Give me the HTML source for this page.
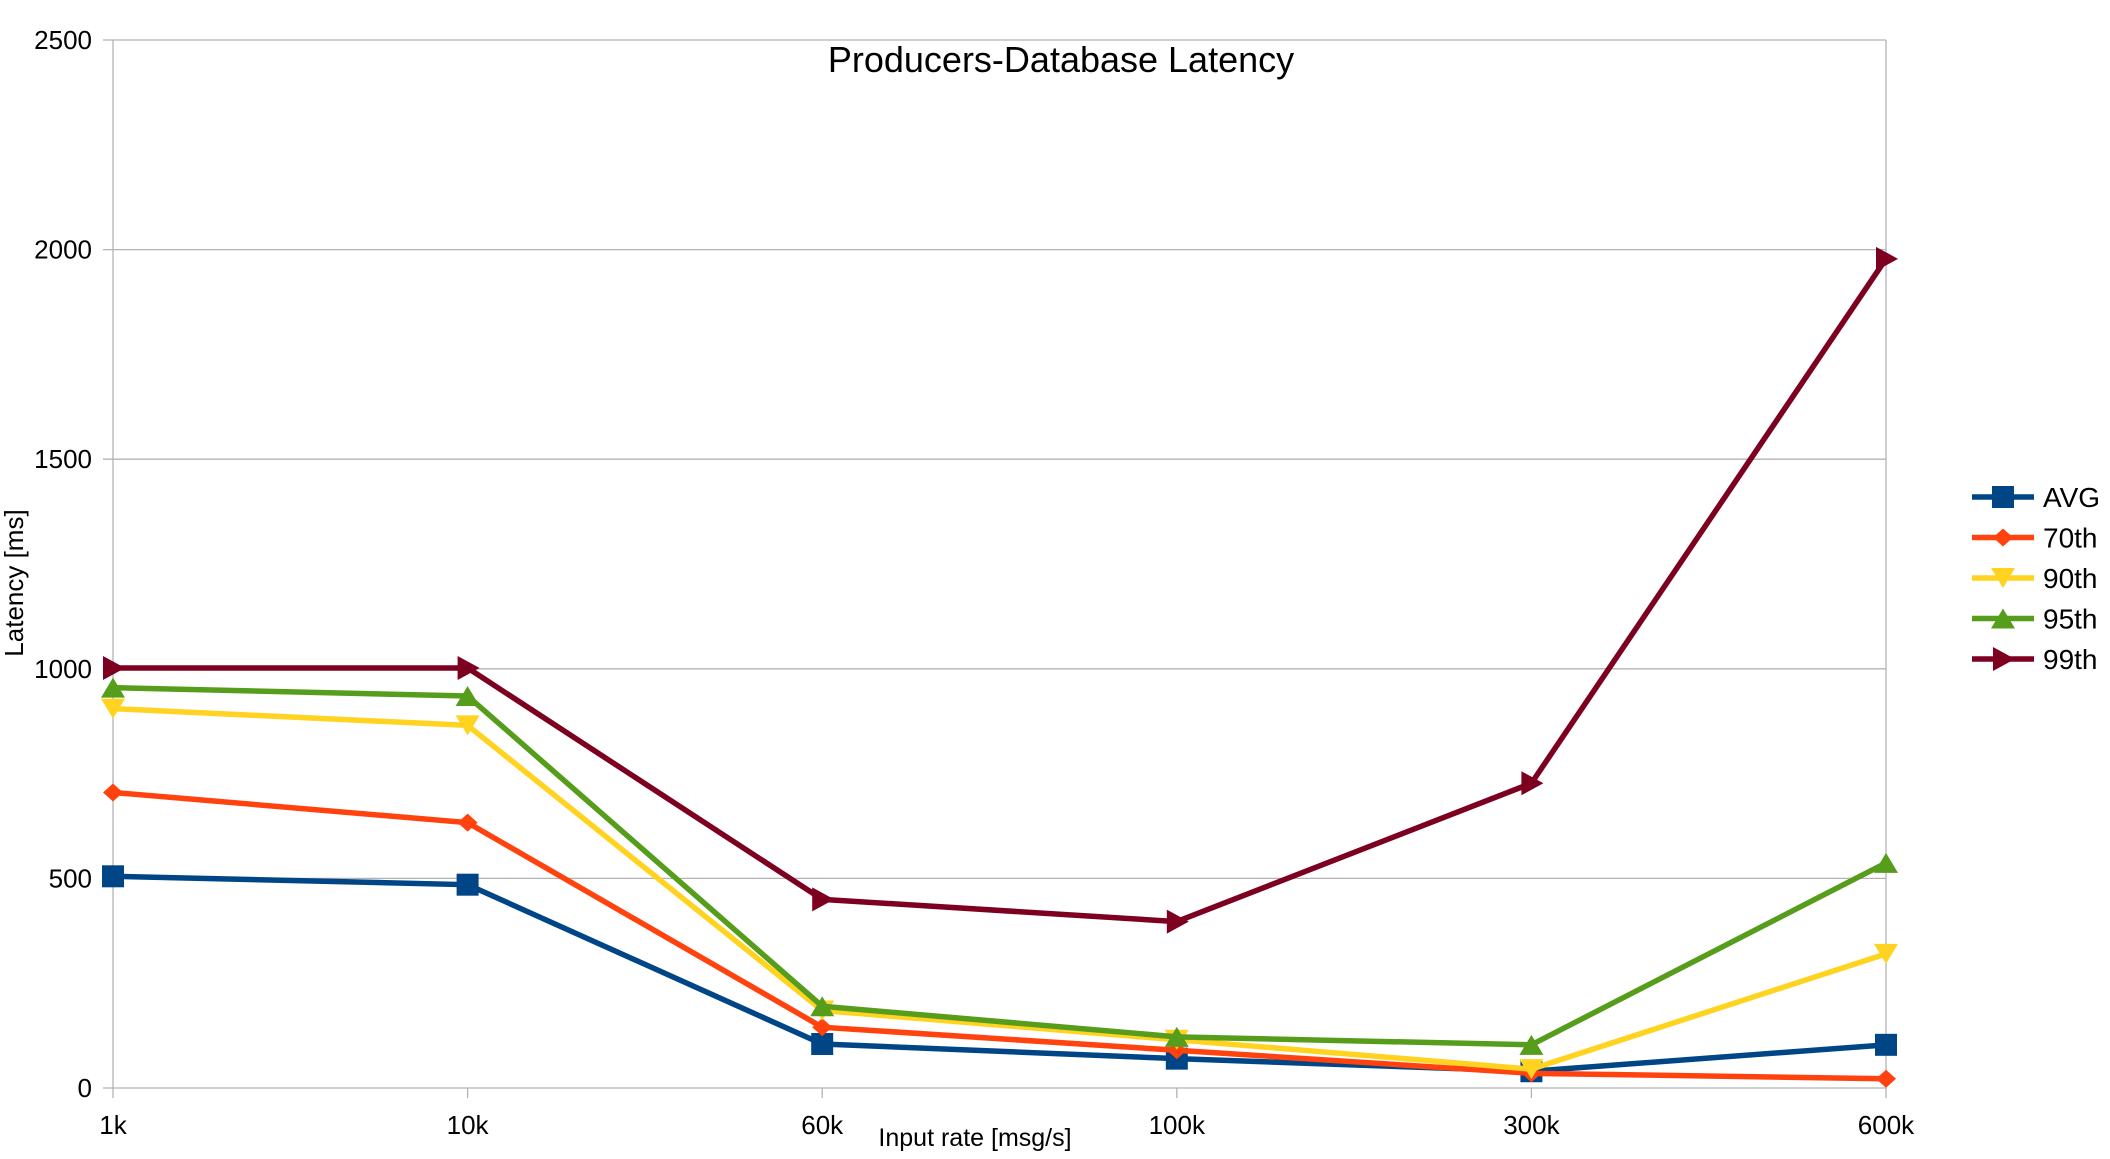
<!DOCTYPE html>
<html><head><meta charset="utf-8"><style>
body{margin:0;background:#fff;}
svg text{font-family:"Liberation Sans",sans-serif;fill:#000;}
</style></head><body>
<svg id="chart" width="2110" height="1154" xmlns="http://www.w3.org/2000/svg">
<text x="1061" y="72" font-size="36" text-anchor="middle">Producers-Database Latency</text>
<text x="975" y="1146" font-size="25" text-anchor="middle">Input rate [msg/s]</text>
<text transform="translate(23,583) rotate(-90)" font-size="26" text-anchor="middle">Latency [ms]</text>
<g id="grid"></g><g id="series"></g><g id="legend"></g>
</svg>
<script>
const categories=["1k","10k","60k","100k","300k","600k"];
const yTicks=[0,500,1000,1500,2000,2500];
const seriesNames=["AVG","70th","90th","95th","99th"];
const avgValues=[505,485,105,70,40,103];
const p70Values=[705,633,145,90,35,22];
const p90Values=[905,865,185,115,45,320];
const p95Values=[955,935,195,122,103,537];
const p99Values=[1002,1002,450,397,727,1978];
const colors=["#004586","#ff420e","#ffd320","#579d1c","#7e0021"];
const markers=["square","diamond","down","up","right"];
const allValues=[avgValues,p70Values,p90Values,p95Values,p99Values];
const NS="http://www.w3.org/2000/svg";
const L=113,R=1886,T=40,B=1088,YMAX=2500;
const x=i=>L+i*(R-L)/(categories.length-1);
const y=v=>B-v/YMAX*(B-T);
function mk(tag,attrs,parent){const e=document.createElementNS(NS,tag);for(const k in attrs)e.setAttribute(k,attrs[k]);parent.appendChild(e);return e;}
const grid=document.getElementById('grid');
yTicks.forEach(t=>{
 const g=mk('line',{x1:L-10,x2:R,y1:y(t),y2:y(t),stroke:'#b3b3b3','stroke-width':1.3},grid);
 
 
 const tx=mk('text',{x:92,y:y(t)+9,'font-size':26,'text-anchor':'end'},grid);
 tx.textContent=t;
 
 
});
categories.forEach((c,i)=>{
 const g=mk('line',{x1:x(i),x2:x(i),y1:(i==0||i==categories.length-1)?T:B,y2:B+10,stroke:'#b3b3b3','stroke-width':1.3},grid);
 
 
 const tx=mk('text',{x:x(i),y:1134,'font-size':26,'text-anchor':'middle'},grid);
 tx.textContent=c;
 
 
});
function marker(type,cx,cy,col,parent){
 const s=11;let p;
 if(type=='square')p=mk('rect',{x:cx-s,y:cy-s,width:2*s,height:2*s,fill:col},parent);
 else{let pts;
  if(type=='diamond')pts=[[cx,cy-9],[cx+10,cy],[cx,cy+9],[cx-10,cy]];
  else if(type=='down')pts=[[cx-12,cy-10],[cx+12,cy-10],[cx,cy+10]];
  else if(type=='up')pts=[[cx-12,cy+10],[cx+12,cy+10],[cx,cy-10]];
  else pts=[[cx-10,cy-12],[cx-10,cy+12],[cx+12,cy]];
  p=mk('polygon',{points:pts.map(a=>a.join(',')).join(' '),fill:col},parent);}
 return p;
}
const sg=document.getElementById('series');
allValues.forEach((vals,si)=>{
 const g=mk('g',{},sg);
 
 
 const pl=mk('polyline',{points:vals.map((v,i)=>x(i)+','+y(v)).join(' '),fill:'none',stroke:colors[si],'stroke-width':5.5,'stroke-linejoin':'round'},g);
 
 
 vals.forEach((v,i)=>{
  const m=marker(markers[si],x(i),y(v),colors[si],g);
  
  
 });
});
const lg=document.getElementById('legend');
seriesNames.forEach((n,si)=>{
 const ly=497+si*40.5;
 const g=mk('g',{},lg);
 
 
 mk('line',{x1:1972,x2:2034,y1:ly,y2:ly,stroke:colors[si],'stroke-width':5.5},g);
 marker(markers[si],2003,ly,colors[si],g);
 const t=mk('text',{x:2043,y:ly+10,'font-size':28},g);
 t.textContent=n;
});
</script>
</body></html>
